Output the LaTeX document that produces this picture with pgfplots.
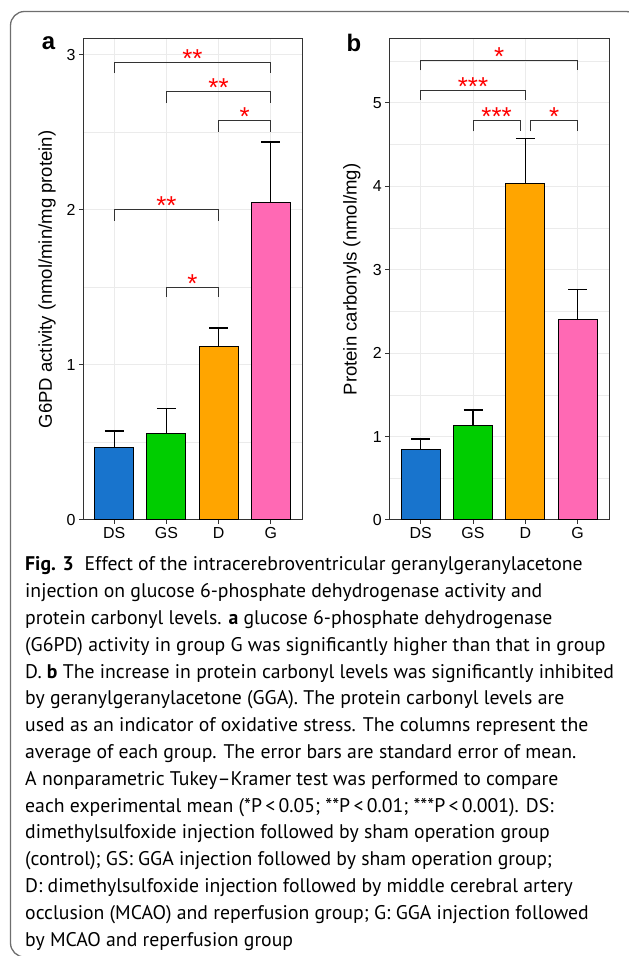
\documentclass[border=0pt]{standalone}
\usepackage{pgfplots}
\pgfplotsset{compat=1.18}
\usepackage{fontspec}
\setmainfont{Liberation Sans}
\newfontfamily\capfont{PT Sans}
\definecolor{cDS}{RGB}{24,116,205}
\definecolor{cGS}{RGB}{0,205,0}
\definecolor{cD}{RGB}{255,165,0}
\definecolor{cG}{RGB}{255,105,180}
\definecolor{gridc}{RGB}{235,235,235}
\definecolor{gtwenty}{RGB}{51,51,51}
\definecolor{boxc}{RGB}{110,110,110}
\pgfplotsset{
  panel/.style={
    scale only axis, anchor=south west,
    xmin=0.4, xmax=4.6, ymin=0,
    xtick={1,2,3,4}, xticklabels={DS,GS,D,G},
    grid=both,
    major grid style={color=gridc, line width=1bp},
    minor grid style={color=gridc, line width=0.6bp},
    minor tick length=0pt,
    tick align=outside, major tick length=4bp,
    xtick pos=left, ytick pos=left,
    axis line style={color=gtwenty, line width=1bp},
    tick style={color=gtwenty, line width=1bp},
    tick label style={font=\fontsize{16}{18}\selectfont, color=black},
    /pgf/number format/assume math mode=true,
    label style={font=\fontsize{18.6}{20}\selectfont},
  },
  bars/.style={ybar, bar shift=0pt, bar width=0.75, draw=black, line width=1bp, fill=#1,
    error bars/.cd, y dir=plus, y explicit,
    error bar style={draw=black, line width=1.2bp},
    error mark=-,
    error mark options={rotate=90, draw=black, line width=1.2bp, mark size=9.5bp}},
  brk/.style={sharp plot, color=gtwenty, line width=1bp, forget plot},
}
\tikzset{star/.style={anchor=base, text=red, font=\fontsize{26}{26}\selectfont, yshift=-5bp}}
\begin{document}
\begin{tikzpicture}[x=1bp,y=1bp]
\useasboundingbox (0,0) rectangle (629,956);
\draw[boxc, line width=1.3bp, rounded corners=14bp] (80,-1) -- (10.5,-1) -- (10.5,944.5) -- (640,944.5) -- (640,880);

% Panel a
\begin{axis}[panel, at={(83bp,436bp)}, width=219bp, height=481bp,
  ymax=3.103, ytick={0,1,2,3}, minor ytick={0.5,1.5,2.5},
  ylabel={G6PD activity (nmol/min/mg protein)},
  ylabel style={at={(axis description cs:-0.164,0.5)}, anchor=center}]
\addplot[bars=cDS] coordinates {(1,0.470) +- (0,0.104)};
\addplot[bars=cGS] coordinates {(2,0.561) +- (0,0.157)};
\addplot[bars=cD] coordinates {(3,1.118) +- (0,0.121)};
\addplot[bars=cG] coordinates {(4,2.050) +- (0,0.389)};
\addplot[brk] coordinates {(1,2.882) (1,2.953) (4,2.953) (4,2.882)};
\addplot[brk] coordinates {(2,2.690) (2,2.763) (4,2.763) (4,2.690)};
\addplot[brk] coordinates {(3,2.502) (3,2.576) (4,2.576) (4,2.502)};
\addplot[brk] coordinates {(1,1.930) (1,2.000) (3,2.000) (3,1.930)};
\addplot[brk] coordinates {(2,1.437) (2,1.503) (3,1.503) (3,1.437)};
\node[star] at (axis cs:2.5,2.953) {**};
\node[star] at (axis cs:3,2.763) {**};
\node[star] at (axis cs:3.5,2.576) {*};
\node[star] at (axis cs:2,2.000) {**};
\node[star] at (axis cs:2.5,1.503) {*};
\end{axis}

% Panel b
\begin{axis}[panel, at={(389.3bp,436bp)}, width=219.7bp, height=481bp,
  ymax=5.764, ytick={0,1,2,3,4,5}, minor ytick={0.5,1.5,2.5,3.5,4.5,5.5},
  ylabel={Protein carbonyls (nmol/mg)},
  ylabel style={at={(axis description cs:-0.171,0.5)}, anchor=center}]
\addplot[bars=cDS] coordinates {(1,0.843) +- (0,0.128)};
\addplot[bars=cGS] coordinates {(2,1.131) +- (0,0.188)};
\addplot[bars=cD] coordinates {(3,4.029) +- (0,0.539)};
\addplot[bars=cG] coordinates {(4,2.400) +- (0,0.358)};
\addplot[brk] coordinates {(1,5.388) (1,5.512) (4,5.512) (4,5.388)};
\addplot[brk] coordinates {(1,5.028) (1,5.152) (3,5.152) (3,5.028)};
\addplot[brk] coordinates {(2,4.656) (2,4.787) (2.9,4.787) (2.9,4.656)};
\addplot[brk] coordinates {(3.1,4.656) (3.1,4.787) (4,4.787) (4,4.656)};
\node[star] at (axis cs:2.5,5.512) {*};
\node[star] at (axis cs:2,5.152) {***};
\node[star] at (axis cs:2.45,4.787) {***};
\node[star] at (axis cs:3.55,4.787) {*};
\end{axis}

\node[font=\fontsize{24}{24}\selectfont\bfseries] at (48.5,913) {a};
\node[font=\fontsize{24}{24}\selectfont\bfseries] at (354,913) {b};

% Caption
\begin{scope}[every node/.style={anchor=base west, inner sep=0pt, font=\capfont\fontsize{19.8}{22}\selectfont}]
\node at (25,956-571.0) {\textbf{Fig. 3}\hspace{0.55em}Effect of the intracerebroventricular geranylgeranylacetone};
\node at (25,956-597.8) {injection on glucose 6-phosphate dehydrogenase activity and};
\node at (25,956-624.6) {protein carbonyl levels. \textbf{a} glucose 6-phosphate dehydrogenase};
\node at (25,956-651.4) {(G6PD) activity in group G was significantly higher than that in group};
\node at (25,956-678.2) {D. \textbf{b} The increase in protein carbonyl levels was significantly inhibited};
\node at (25,956-705.0) {by geranylgeranylacetone (GGA). The protein carbonyl levels are};
\node at (25,956-731.8) {used as an indicator of oxidative stress. The columns represent the};
\node at (25,956-758.6) {average of each group. The error bars are standard error of mean.};
\node at (25,956-785.4) {A nonparametric Tukey–Kramer test was performed to compare};
\node at (25,956-812.2) {each experimental mean (*P\,<\,0.05; **P\,<\,0.01; ***P\,<\,0.001). DS:};
\node at (25,956-839.0) {dimethylsulfoxide injection followed by sham operation group};
\node at (25,956-865.8) {(control); GS: GGA injection followed by sham operation group;};
\node at (25,956-892.6) {D: dimethylsulfoxide injection followed by middle cerebral artery};
\node at (25,956-919.4) {occlusion (MCAO) and reperfusion group; G: GGA injection followed};
\node at (25,956-946.2) {by MCAO and reperfusion group};
\end{scope}
\end{tikzpicture}
\end{document}
